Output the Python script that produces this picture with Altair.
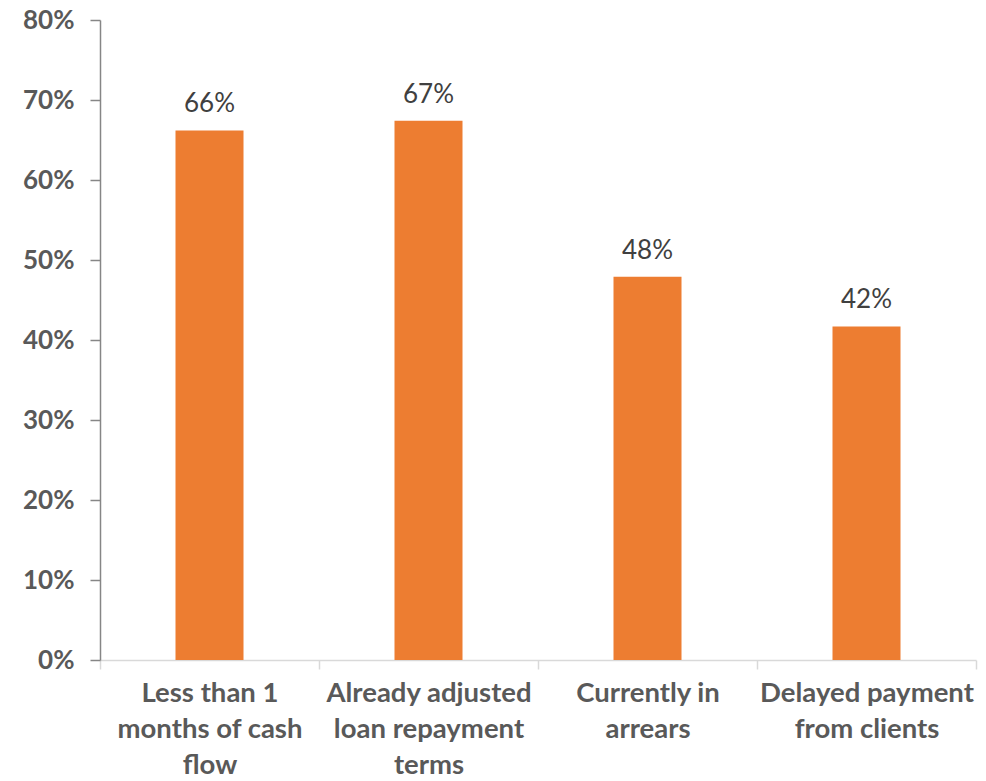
import altair as alt
import pandas as pd

categories = [
    "Less than 1|months of cash|flow",
    "Already adjusted|loan repayment|terms",
    "Currently in|arrears",
    "Delayed payment|from clients",
]
values = [0.662, 0.674, 0.479, 0.417]

df = pd.DataFrame({"category": categories, "value": values})

FONT = "Lato"

x = alt.X(
    "category:N",
    sort=categories,
    title=None,
    scale=alt.Scale(paddingInner=0, paddingOuter=0),
    axis=alt.Axis(
        labelExpr="split(datum.label, '|')",
        labelAngle=0,
        labelFont=FONT,
        labelFontSize=27.5,
        labelFontWeight="bold",
        labelColor="#595959",
        labelLineHeight=36,
        labelPadding=10,
        labelLimit=300,
        domainColor="#d9d9d9",
        domainWidth=1.5,
        tickColor="#d9d9d9",
        tickWidth=1.5,
        tickSize=9,
        tickBand="extent",
        grid=False,
    ),
)

y = alt.Y(
    "value:Q",
    title=None,
    scale=alt.Scale(domain=[0, 0.8], nice=False),
    axis=alt.Axis(
        format=".0%",
        values=[0, 0.1, 0.2, 0.3, 0.4, 0.5, 0.6, 0.7, 0.8],
        labelFont=FONT,
        labelFontSize=26,
        labelFontWeight="bold",
        labelColor="#595959",
        labelPadding=16,
        domainColor="#868686",
        domainWidth=1.5,
        tickColor="#868686",
        tickWidth=1.5,
        tickSize=10,
        grid=False,
    ),
)

bars = alt.Chart(df).mark_bar(color="#ED7D31", size=68).encode(x=x, y=y)

labels = alt.Chart(df).mark_text(
    font=FONT, fontSize=26, color="#404040", baseline="alphabetic", dy=-18
).encode(
    x=alt.X("category:N", sort=categories),
    y="value:Q",
    text=alt.Text("value:Q", format=".0%"),
)

chart = (
    alt.layer(bars, labels)
    .properties(
        width=876,
        height=640,
        autosize=alt.AutoSizeParams(type="none"),
        padding={"left": 100, "top": 20, "right": 10, "bottom": 121},
        background="white",
    )
    .configure_view(stroke=None, strokeWidth=0)
)

chart.save("out.html", embed_options={"renderer": "svg", "actions": False})
